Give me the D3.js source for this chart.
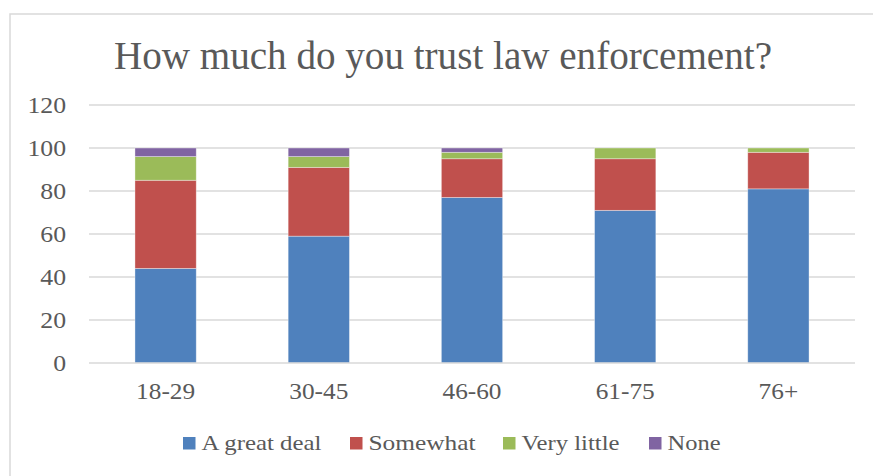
<!DOCTYPE html>
<html>
<head>
<meta charset="utf-8">
<script src="https://cdn.jsdelivr.net/npm/d3@7"></script>
<style>
  html, body { margin: 0; padding: 0; background: #fff; }
  svg { display: block; }
  text { font-family: "Liberation Serif", "DejaVu Serif", serif; fill: #595959; }
</style>
</head>
<body>
<svg id="chart" width="873" height="476"></svg>
<script>
// Survey answers by age group (percent of respondents)
const ageGroups = ["18-29", "30-45", "46-60", "61-75", "76+"];
const seriesNames = ["A great deal", "Somewhat", "Very little", "None"];
const greatDeal = [44, 59, 77, 71, 81];
const somewhat = [41, 32, 18, 24, 17];
const veryLittle = [11, 5, 3, 5, 2];
const none = [4, 4, 2, 0, 0];
const yTicks = [0, 20, 40, 60, 80, 100, 120];
const colors = ["#4f81bd", "#c0504d", "#9bbb59", "#8064a2"];
const title = "How much do you trust law enforcement?";

const rows = ageGroups.map((g, i) => ({
  group: g,
  "A great deal": greatDeal[i],
  "Somewhat": somewhat[i],
  "Very little": veryLittle[i],
  "None": none[i]
}));

const svg = d3.select("#chart");
const W = 873, H = 476;
const plot = { left: 89, right: 855, top: 105, bottom: 363 };

// Widen a text node horizontally by a factor, keeping its anchor
function widen(sel, factor) {
  sel.each(function () {
    const w = this.getComputedTextLength();
    d3.select(this).attr("textLength", w * factor).attr("lengthAdjust", "spacingAndGlyphs");
  });
}

// Chart frame
svg.append("rect")
  .attr("x", 10).attr("y", 14)
  .attr("width", W + 10).attr("height", H + 10)
  .attr("fill", "#fff").attr("stroke", "#d9d9d9").attr("stroke-width", 1.5);

const x = d3.scaleBand().domain(ageGroups).range([plot.left, plot.right]).paddingInner(0.6).paddingOuter(0.3);
const y = d3.scaleLinear().domain([0, 120]).range([plot.bottom, plot.top]);

// Horizontal gridlines
svg.append("g").selectAll("line").data(yTicks.filter(t => t > 0)).join("line")
  .attr("x1", plot.left).attr("x2", plot.right)
  .attr("y1", d => y(d)).attr("y2", d => y(d))
  .attr("stroke", "#d9d9d9").attr("stroke-width", 1.5);

// Y axis labels
const yAxis = svg.append("g")
  .attr("transform", `translate(${plot.left},0)`)
  .call(d3.axisLeft(y).tickValues(yTicks).tickSize(0).tickPadding(23));
yAxis.select(".domain").remove();
yAxis.selectAll("text")
  .style("font-family", '"Liberation Serif", serif')
  .attr("font-size", 23).attr("fill", "#595959").attr("dy", "0.34em")
  .call(widen, 1.12);

// Stacked bars
const stack = d3.stack().keys(seriesNames)(rows);
svg.append("g").selectAll("g").data(stack).join("g")
  .attr("fill", (d, i) => colors[i])
  .selectAll("rect").data(d => d.filter(p => p[1] - p[0] > 0)).join("rect")
  .attr("x", d => x(d.data.group))
  .attr("width", x.bandwidth())
  .attr("y", d => y(d[1]))
  .attr("height", d => y(d[0]) - y(d[1]))
  .attr("stroke", "#ffffff").attr("stroke-opacity", 0.45).attr("stroke-width", 0.8);

// Baseline
svg.append("line")
  .attr("x1", plot.left).attr("x2", plot.right)
  .attr("y1", y(0)).attr("y2", y(0))
  .attr("stroke", "#d9d9d9").attr("stroke-width", 1.5);

// X axis labels
const xAxis = svg.append("g")
  .attr("transform", `translate(0,${plot.bottom})`)
  .call(d3.axisBottom(x).tickSize(0).tickPadding(20));
xAxis.select(".domain").remove();
xAxis.selectAll("text")
  .style("font-family", '"Liberation Serif", serif')
  .attr("font-size", 23).attr("fill", "#595959")
  .call(widen, 1.1);

// Title
svg.append("text")
  .attr("x", (114 + 772) / 2).attr("y", 69)
  .attr("text-anchor", "middle")
  .attr("font-size", 41)
  .attr("textLength", 658).attr("lengthAdjust", "spacingAndGlyphs")
  .text(title);

// Legend
const legendX = [183, 350, 503, 649];
const legendTextW = [120, 107, 98, 53];
const legend = svg.append("g").selectAll("g").data(seriesNames).join("g")
  .attr("transform", (d, i) => `translate(${legendX[i]},437)`);
legend.append("rect")
  .attr("width", 12.5).attr("height", 12.5)
  .attr("fill", (d, i) => colors[i]);
legend.append("text")
  .attr("x", 18.5).attr("y", 13)
  .attr("font-size", 22)
  .attr("textLength", (d, i) => legendTextW[i]).attr("lengthAdjust", "spacingAndGlyphs")
  .text(d => d);
</script>
</body>
</html>
